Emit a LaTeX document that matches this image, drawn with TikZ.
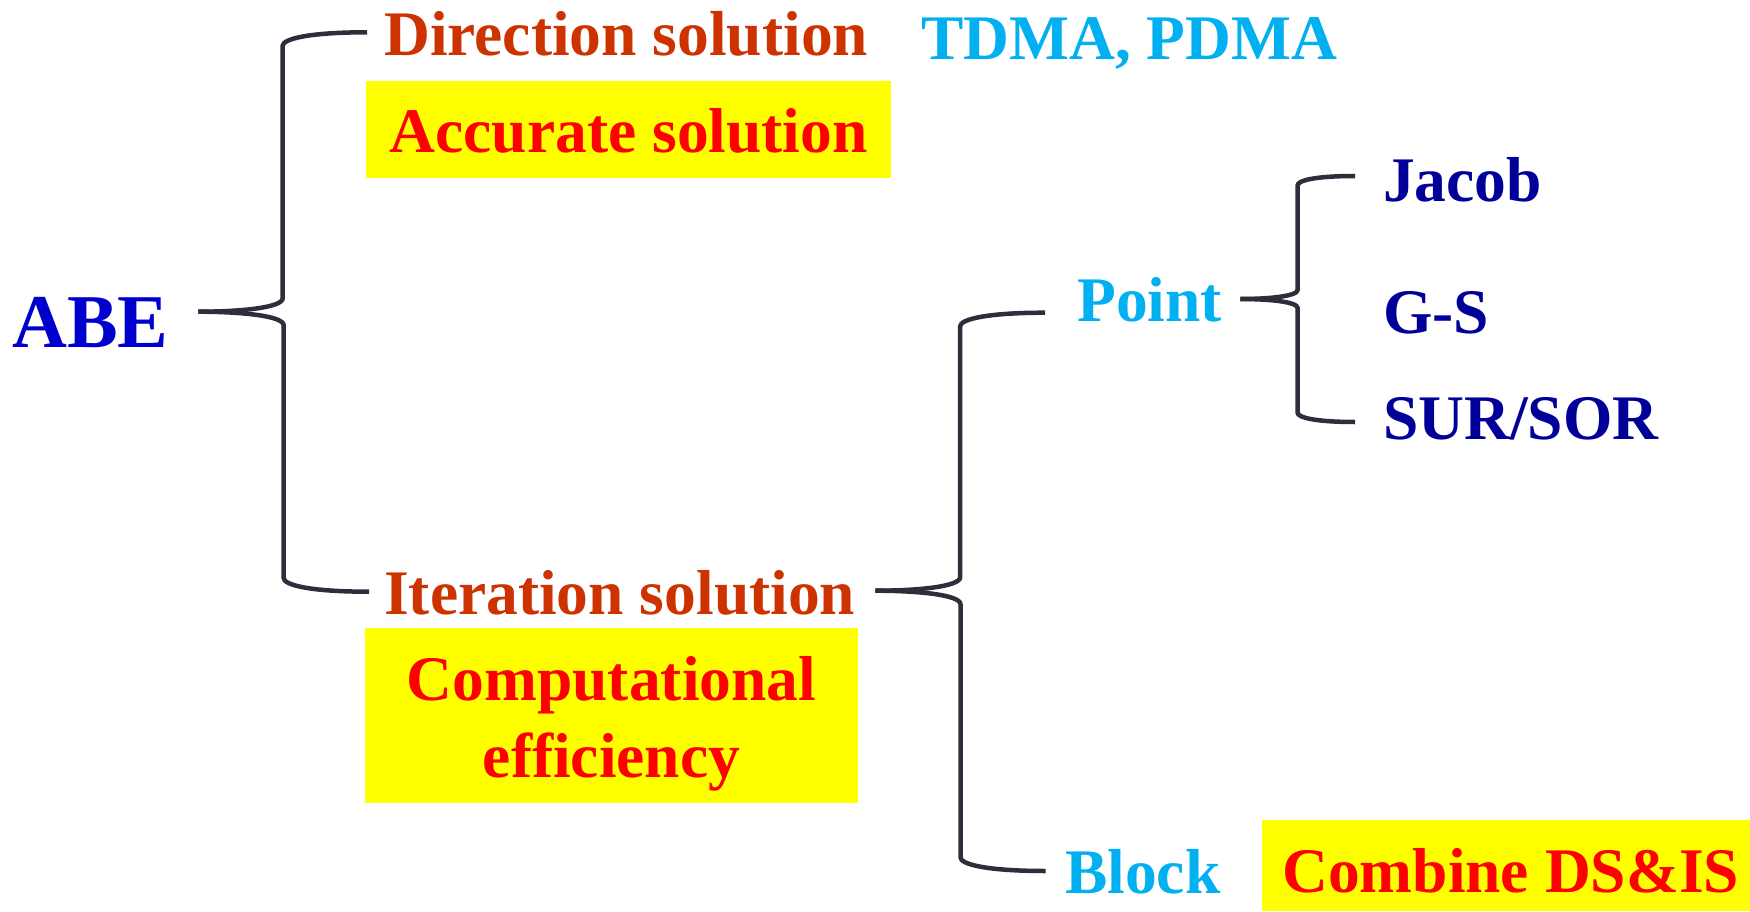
\documentclass[tikz,border=0pt]{standalone}
\usepackage{fontspec}
\setmainfont{Liberation Serif}
\usetikzlibrary{calc}

\definecolor{rust}{RGB}{204,51,0}
\definecolor{sky}{RGB}{0,176,240}
\definecolor{royal}{RGB}{0,0,204}
\definecolor{deepnavy}{RGB}{0,0,153}
\definecolor{bracegray}{RGB}{45,45,60}
\definecolor{hiyellow}{RGB}{255,255,0}
\definecolor{hired}{RGB}{255,0,0}

\newcommand{\labelfont}{\fontsize{63.5}{77}\selectfont\bfseries}
\newcommand{\rootfont}{\fontsize{76}{90}\selectfont\bfseries}

\setlength{\tabcolsep}{0pt}

\tikzset{
  txt/.style={inner sep=0pt, anchor=base west, font=\labelfont},
  hlbox/.style={fill=hiyellow, text=hired, inner sep=0pt, text height=72pt, font=\labelfont},
  % half of a curly brace: from the tip to the end of one arm,
  % the vertical bar sits half way between them
  brace/.style={draw=bracegray, line width=4.5pt,
    to path={let \p1=(\tikztostart), \p2=(\tikztotarget),
      \n2={0.5*(\x2-\x1)},
      \n3={ifthenelse(\y2>\y1,1,-1)*0.16*\n2} in
      .. controls ({\x1+0.5*\n2},\y1) and ({0.5*\x1+0.5*\x2},{\y1+0.3*\n3})
      .. ({0.5*\x1+0.5*\x2},{\y1+\n3})
      -- ({0.5*\x1+0.5*\x2},{\y2-\n3})
      .. controls ({0.5*\x1+0.5*\x2},{\y2-0.5*\n3}) and ({0.5*\x1+0.5*\x2+0.3*\n2},\y2)
      .. (\x2,\y2)}}
}

\begin{document}
\begin{tikzpicture}[x=1pt, y=-1pt]
\useasboundingbox (0,0) rectangle (1750,912);

% labels
\node[txt, font=\rootfont, text=royal] (abe) at (12,347) {ABE};
\node[txt, text=rust] (dir) at (384,56) {Direction solution};
\node[txt, text=sky] (tdma) at (921,60) {TDMA, PDMA};
\node[hlbox, anchor=base west, minimum width=525pt, text depth=25pt] (acc) at (366,153) {Accurate solution};
\node[txt, text=rust] (iter) at (384,614) {Iteration solution};
\node[hlbox, anchor=base, minimum width=493pt, text depth=103pt] (comp) at (611.5,700)
  {\begin{tabular}[t]{c}Computational\\efficiency\end{tabular}};
\node[txt, text=sky] (point) at (1077,321) {Point};
\node[txt, text=sky] (block) at (1065,893) {Block};
\node[hlbox, anchor=base west, inner xsep=20pt, text depth=19pt] (comb) at (1262,892) {Combine DS\&IS};
\node[txt, text=deepnavy] (jacob) at (1383,202) {Jacob};
\node[txt, text=deepnavy] (gs) at (1383,333) {G-S};
\node[txt, text=deepnavy] (sor) at (1383,439) {SUR/SOR};

% ABE -> direct / iterative
\draw[brace] ([xshift=29.7pt,yshift=35.3pt]abe.base east) to ([xshift=-17pt,yshift=23.7pt]dir.base west);
\draw[brace] ([xshift=29.7pt,yshift=35.3pt]abe.base east) to ([xshift=-15pt,yshift=22.3pt]iter.base west);

% iterative -> point / block
\draw[brace] ([xshift=20pt,yshift=23.3pt]iter.base east) to ([xshift=-32pt,yshift=8.3pt]point.base west);
\draw[brace] ([xshift=20pt,yshift=23.3pt]iter.base east) to ([xshift=-19.4pt,yshift=22pt]block.base west);

% point -> methods
\draw[brace] ([xshift=18.3pt,yshift=22pt]point.base east) to ([xshift=-28pt,yshift=26pt]jacob.base west);
\draw[brace] ([xshift=18.3pt,yshift=22pt]point.base east) to ([xshift=-28pt,yshift=17pt]sor.base west);
\end{tikzpicture}
\end{document}
